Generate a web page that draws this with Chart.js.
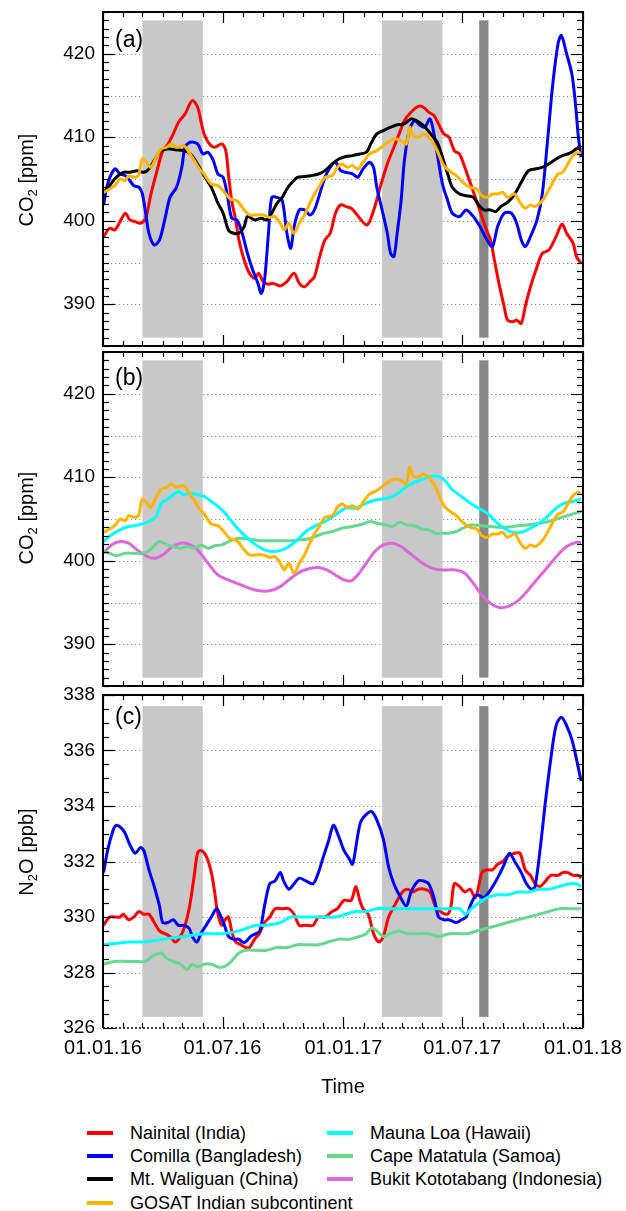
<!DOCTYPE html>
<html><head><meta charset="utf-8">
<script src="https://cdn.jsdelivr.net/npm/chart.js@4.4.1/dist/chart.umd.min.js"></script>
<style>
html,body{margin:0;padding:0;background:#fff}
body{position:relative;width:626px;height:1211px;overflow:hidden;font-family:"Liberation Sans",Arial,Helvetica,sans-serif;color:#000}
canvas{position:absolute;left:0}
.yt{position:absolute;font-size:20px;line-height:20px;white-space:nowrap;transform:translate(-50%,-50%) rotate(-90deg)}
.yt sub{font-size:13px;vertical-align:-4px;line-height:0}
.pl{position:absolute;left:115px;font-size:23px;line-height:23px}
.xt{position:absolute;left:343px;top:1086px;font-size:20px;line-height:20px;transform:translate(-50%,-50%)}
.li{position:absolute;height:22px;line-height:22px;font-size:18px;white-space:nowrap}
.li i{position:absolute;left:-43.5px;top:9px;width:26px;height:4px}
</style></head><body>
<canvas id="ca" width="626" height="370" style="top:0px"></canvas>
<canvas id="cb" width="626" height="370" style="top:330px"></canvas>
<canvas id="cc" width="626" height="430" style="top:670px"></canvas>
<div class="yt" style="left:26px;top:180px">CO<sub>2</sub> [ppm]</div>
<div class="yt" style="left:26px;top:518px">CO<sub>2</sub> [ppm]</div>
<div class="yt" style="left:26px;top:852px">N<sub>2</sub>O [ppb]</div>
<div class="pl" style="top:27.5px">(a)</div>
<div class="pl" style="top:365.5px">(b)</div>
<div class="pl" style="top:704.5px">(c)</div>
<div class="xt">Time</div>
<div id="legend"></div>
<script>
// ---------------- data ----------------
const DAY_TICKS = [0, 182, 366, 547, 731];
const DAY_LABELS = ['01.01.16', '01.07.16', '01.01.17', '01.07.17', '01.01.18'];
const MONTH_STARTS = [0,31,60,91,121,152,182,213,244,274,305,335,366,397,425,456,486,517,547,578,609,639,670,700,731];
const LIGHT_PERIODS = [[60, 152], [425, 517]];
const DARK_PERIODS = [[573, 587]];
const CO2_TICKS = [390, 400, 410, 420];
const CO2_GRID = [390, 395, 400, 405, 410, 415, 420];
const N2O_TICKS = [326, 328, 330, 332, 334, 336, 338];
const N2O_GRID = [328, 330, 332, 334, 336];

const NAMES = ['Nainital (India)', 'Comilla (Bangladesh)', 'Mt. Waliguan (China)', 'GOSAT Indian subcontinent',
               'Mauna Loa (Hawaii)', 'Cape Matatula (Samoa)', 'Bukit Kototabang (Indonesia)'];
const COLORS = ['#ff0000', '#0000ff', '#000000', '#ffb400', '#00ffff', '#66d98f', '#dd66dd'];

// CO2 (ppm)
const nainitalCO2Days = [1,10,18,26,34,41,49,57,65,73,81,91,99,107,115,125,136,144,149,154,162,170,181,187,191,196,202,207,215,223,231,237,244,252,259,270,280,291,299,307,315,322,330,338,346,354,362,370,378,385,393,401,406,414,422,433,443,451,459,469,480,488,496,504,511,519,527,535,543,551,559,567,574,582,590,597,603,611,616,624,630,637,643,651,661,669,679,690,699,706,716,721,728];
const nainitalCO2 = [398.1,399.1,398.9,399.9,400.9,400.1,399.9,399.7,400.3,403.2,405.6,408.4,409.2,410.4,411.8,412.8,414.4,413.6,412.0,410.4,409.2,408.8,409.2,408.4,405.6,402.4,400.1,397.7,395.3,393.7,393.1,393.7,392.7,392.4,392.5,392.2,392.7,393.7,392.5,392.1,392.7,393.3,395.7,397.7,398.5,400.9,401.9,401.7,401.5,400.9,400.1,399.5,399.9,401.7,404.0,406.8,408.8,410.4,412.0,413.0,413.7,413.6,413.0,412.6,411.6,410.4,410.0,408.4,408.0,406.4,404.6,402.8,401.2,399.3,397.7,394.9,392.5,389.7,388.1,387.9,388.1,387.7,389.7,392.1,394.5,396.1,396.5,398.1,399.6,398.5,397.3,395.7,394.9];

const comillaCO2Days = [1,7,18,26,34,41,47,55,60,65,70,78,86,94,102,112,120,125,133,144,152,160,168,175,183,189,196,204,212,220,228,236,241,246,252,257,265,273,280,286,291,299,307,315,322,330,338,346,354,362,370,380,388,396,406,412,417,425,433,438,443,448,454,459,467,475,483,490,498,504,509,517,525,532,543,553,564,574,585,593,601,611,622,630,637,643,651,661,669,677,685,693,698,706,714,719,724,728];
const comillaCO2 = [401.9,404.4,406.2,405.6,405.4,404.8,404.2,404.0,403.2,400.9,398.5,397.1,397.7,400.1,402.8,404.0,406.4,408.8,409.4,409.2,408.0,408.2,407.2,405.6,405.2,403.2,400.3,400.1,398.5,396.1,394.1,392.5,391.3,392.9,398.5,402.8,402.8,402.4,398.5,396.7,399.3,401.3,401.3,400.7,401.3,403.2,405.2,406.4,407.0,406.0,405.8,405.6,405.2,406.2,407.0,406.4,404.0,401.3,398.5,396.1,395.7,398.5,402.4,407.2,411.0,412.0,411.4,411.2,412.2,410.4,408.0,404.4,402.4,400.9,400.5,401.3,400.5,399.3,397.7,396.9,399.3,400.9,400.9,399.7,397.7,396.9,398.1,400.1,403.2,409.6,416.4,421.2,422.2,420.0,417.6,414.4,410.0,407.6];

const waliguanCO2Days = [1,10,20,31,41,52,62,70,78,86,97,110,123,133,144,154,165,175,183,191,199,207,215,220,231,241,249,257,265,273,280,288,296,307,317,328,338,349,359,370,380,391,401,409,417,427,438,448,459,469,477,485,493,501,509,517,525,532,543,553,564,572,580,590,598,606,616,627,637,648,658,669,679,690,700,711,721,728];
const waliguanCO2 = [403.4,404.2,405.2,405.8,405.8,406.0,405.8,406.2,407.2,408.2,408.6,408.5,408.4,408.0,406.8,405.4,404.0,402.1,400.9,398.9,398.5,398.5,399.3,400.5,400.1,400.3,400.1,400.9,402.1,402.8,403.8,404.6,405.2,405.3,405.4,405.6,406.0,406.8,407.4,407.7,407.8,408.0,408.2,409.4,410.4,410.8,411.2,411.5,411.6,412.2,412.0,411.6,411.0,410.2,409.4,407.6,405.6,404.0,403.2,403.0,402.8,401.9,401.3,401.3,401.1,401.7,402.2,403.2,404.6,406.0,406.2,406.4,406.8,407.4,407.8,408.1,408.6,408.8];

const gosatCO2Days = [1,10,18,26,34,39,47,54,60,68,73,81,89,97,104,112,123,131,139,147,154,165,175,183,194,204,215,223,233,244,254,262,270,276,283,291,299,307,315,322,330,338,349,357,364,372,380,388,396,406,417,427,438,446,454,462,467,472,480,488,496,504,511,519,527,538,548,559,569,577,585,593,601,609,616,627,635,643,651,658,669,677,685,693,700,708,716,724,728];
const gosatCO2 = [403.4,403.8,404.2,405.0,404.8,405.4,405.2,405.4,407.4,406.8,406.4,407.6,408.6,408.8,409.2,408.8,409.0,408.2,407.2,406.2,405.6,404.4,404.2,403.6,402.6,402.4,401.3,400.7,400.7,400.7,400.4,400.5,399.7,398.9,399.7,398.5,399.7,400.7,402.1,403.2,404.2,405.2,405.4,406.4,406.8,406.4,406.6,406.2,407.0,408.0,408.4,409.0,409.6,409.8,409.6,409.2,411.2,410.2,410.0,410.4,410.0,409.2,408.0,406.6,406.0,405.4,404.6,404.0,403.8,403.0,402.8,403.2,403.2,403.4,402.8,403.2,402.2,401.5,401.9,401.7,402.4,403.4,404.6,405.6,405.8,406.8,407.8,408.2,408.0];

const maunaLoaCO2Days = [1,13,26,39,55,70,81,89,97,107,115,123,133,144,154,165,175,186,196,207,220,233,246,259,273,283,296,309,322,338,354,370,385,401,417,433,446,459,472,485,498,511,522,532,546,559,572,585,598,611,624,637,651,664,677,690,703,716,728];
const maunaLoaCO2 = [402.3,403.1,403.7,404.1,404.3,404.7,405.3,406.9,407.3,407.9,408.3,407.9,408.1,407.9,407.7,407.1,406.5,405.7,404.7,403.7,402.7,401.9,401.3,401.1,401.3,401.7,402.5,403.5,404.1,404.7,405.5,406.3,406.3,406.9,407.3,407.5,407.9,408.7,409.3,409.7,410.1,410.1,409.5,408.5,407.7,406.9,406.3,405.7,404.7,403.9,403.4,403.4,403.9,404.5,405.3,406.3,406.9,407.1,407.4];

const samoaCO2Days = [1,10,20,34,47,60,70,86,97,107,118,128,139,149,160,170,181,191,207,223,238,254,270,286,301,317,333,349,364,380,396,406,417,430,441,451,462,475,485,496,506,517,527,538,548,561,574,588,601,616,632,648,664,679,695,711,728];
const samoaCO2 = [401.1,400.9,400.6,400.9,400.9,400.9,401.2,402.3,401.9,401.7,401.5,401.7,401.5,401.9,401.5,401.8,401.9,402.3,402.7,402.6,402.4,402.4,402.4,402.4,402.5,402.7,403.2,403.5,403.9,404.1,404.4,404.7,404.5,404.3,404.1,404.6,404.3,404.2,403.8,403.7,403.3,403.3,403.3,403.5,403.9,404.3,404.2,404.1,404.0,404.0,404.2,404.3,404.5,404.7,405.1,405.5,405.9];

const bukitCO2Days = [1,13,26,39,52,65,78,91,104,118,131,144,160,175,191,207,223,238,254,270,286,301,317,328,341,354,367,378,388,401,414,427,441,454,467,480,493,506,522,538,551,564,577,590,603,616,630,643,656,669,682,695,708,721,728];
const bukitCO2 = [401.0,401.9,402.3,402.1,401.3,400.6,400.3,400.7,401.6,402.1,402.0,401.3,399.7,398.3,397.7,397.2,396.7,396.4,396.4,396.9,397.9,398.7,399.1,399.2,398.9,398.3,397.7,397.6,398.3,399.7,401.1,401.9,402.1,401.7,400.9,400.1,399.4,399.0,398.9,398.9,398.5,397.3,395.9,394.9,394.4,394.5,395.1,396.1,397.3,398.5,399.7,400.9,401.8,402.2,402.2];

// N2O (ppb)
const comillaN2ODays = [1,7,15,20,28,34,41,49,57,62,70,78,86,91,99,107,115,123,131,136,143,149,157,165,173,178,185,191,199,207,212,217,225,233,239,246,254,262,270,275,283,291,299,309,320,328,336,343,351,359,367,375,380,385,392,401,409,417,427,435,443,451,462,469,480,488,496,504,511,519,527,538,546,553,561,569,580,588,596,603,611,619,627,637,645,653,658,666,674,682,690,698,706,714,721,728];
const comillaN2O = [331.6,332.4,333.1,333.3,333.2,333.0,332.6,332.3,332.5,332.4,331.7,331.1,330.4,329.8,329.8,329.9,329.7,329.7,329.6,329.3,329.1,329.4,329.7,330.0,330.3,330.1,329.7,329.3,329.2,329.2,329.1,329.1,329.3,329.4,329.5,330.4,331.2,331.3,331.6,331.3,331.0,331.2,331.4,331.3,331.2,331.6,332.2,332.7,333.3,332.9,332.4,332.1,331.9,332.5,333.4,333.7,333.8,333.5,332.8,331.8,331.2,330.8,330.4,330.9,331.3,331.3,331.2,330.7,330.0,329.9,329.9,329.8,329.9,330.0,330.5,330.8,330.7,330.9,331.2,331.5,331.9,332.3,332.0,331.6,331.2,331.0,331.1,332.5,334.2,335.7,336.9,337.2,336.9,336.4,335.7,334.9];

const nainitalN2ODays = [1,10,18,26,31,39,47,55,62,70,78,86,94,102,110,118,125,132,139,144,149,157,165,170,175,181,186,191,196,202,210,217,223,231,238,246,254,262,273,283,291,299,309,320,328,338,349,357,367,378,385,391,396,404,412,420,427,435,446,456,464,472,480,490,498,506,514,525,530,535,543,551,559,567,572,577,585,593,601,609,616,627,635,643,651,658,666,674,682,693,700,708,716,724,728];
const nainitalN2O = [329.7,330.0,330.0,330.0,330.1,329.9,330.0,330.2,330.1,330.1,329.8,329.5,329.4,329.3,329.1,329.3,329.7,330.4,331.5,332.3,332.4,332.2,331.6,330.9,330.1,329.7,329.9,330.0,329.5,329.1,329.0,328.9,328.9,329.2,329.4,329.8,330.0,330.3,330.3,330.3,330.1,329.7,329.7,329.7,330.0,330.0,330.2,330.3,330.6,330.6,331.1,330.6,330.3,330.1,329.4,329.1,329.3,330.0,330.5,330.9,331.0,330.9,331.0,331.0,330.9,330.4,330.2,330.1,330.4,331.2,331.1,330.9,331.0,330.7,331.1,331.6,331.7,331.7,331.9,332.0,332.2,332.3,332.3,331.7,331.5,331.2,331.1,331.3,331.5,331.5,331.6,331.6,331.5,331.5,331.4];

const maunaLoaN2ODays = [1,39,60,91,123,154,181,207,233,249,270,286,301,322,338,354,370,385,401,417,433,448,464,480,496,511,527,543,552,561,572,585,601,616,632,648,664,679,695,711,721,728];
const maunaLoaN2O = [329.0,329.1,329.1,329.2,329.3,329.4,329.4,329.5,329.7,329.7,329.8,330.0,330.0,330.0,330.0,330.0,330.1,330.2,330.2,330.3,330.3,330.3,330.3,330.3,330.3,330.3,330.3,330.3,330.1,330.3,330.5,330.7,330.8,330.8,330.9,330.9,331.0,331.0,331.1,331.2,331.2,331.1];

const samoaN2ODays = [1,18,34,49,65,76,89,97,107,118,128,136,144,154,165,175,183,191,199,207,217,233,249,265,280,296,312,328,343,359,375,391,401,409,417,427,438,451,464,480,496,511,527,543,556,569,585,601,616,632,648,664,679,695,711,728];
const samoaN2O = [328.3,328.4,328.4,328.4,328.4,328.6,328.7,328.5,328.4,328.3,328.1,328.3,328.2,328.3,328.3,328.2,328.2,328.3,328.5,328.7,328.8,328.8,328.8,328.9,328.9,329.0,329.0,329.0,329.1,329.2,329.2,329.3,329.4,329.6,329.5,329.3,329.4,329.5,329.4,329.4,329.4,329.3,329.4,329.4,329.4,329.5,329.6,329.7,329.8,329.9,330.0,330.1,330.2,330.3,330.3,330.3];

// ---------------- panels ----------------
const PANEL = {
  ca: {min: 385, max: 425, grid: CO2_GRID, boxLo: 386, boxHi: 424, minor: 1, major: 10, dottedBottom: false},
  cb: {min: 385, max: 425, grid: CO2_GRID, boxLo: 386, boxHi: 424, minor: 1, major: 10, dottedBottom: false},
  cc: {min: 326, max: 338, grid: N2O_GRID, boxLo: 326.4, boxHi: 337.6, minor: 0.5, major: 2, dottedBottom: true}
};

const FONT = "'Liberation Sans', Arial, Helvetica, sans-serif";
Chart.defaults.font.family = FONT;
Chart.defaults.color = '#000';

function line(ctx, x0, y0, x1, y1) { ctx.beginPath(); ctx.moveTo(x0, y0); ctx.lineTo(x1, y1); ctx.stroke(); }

const framePlugin = {
  id: 'frame',
  beforeDatasetsDraw(chart) {
    const P = PANEL[chart.canvas.id];
    const {ctx, chartArea: a} = chart;
    const x = chart.scales.x, y = chart.scales.y;
    ctx.save();
    ctx.strokeStyle = '#8f8f8f'; ctx.lineWidth = 1; ctx.setLineDash([1.2, 2.8]);
    P.grid.forEach(v => { const py = Math.round(y.getPixelForValue(v)) + 0.5; line(ctx, a.left, py, a.right, py); });
    ctx.setLineDash([]);
    const yt = y.getPixelForValue(P.boxHi), yb = y.getPixelForValue(P.boxLo);
    const boxes = (periods, color) => {
      ctx.fillStyle = color;
      periods.forEach(([s, e]) => { const x0 = x.getPixelForValue(s), x1 = x.getPixelForValue(e); ctx.fillRect(x0, yt, x1 - x0, yb - yt); });
    };
    boxes(LIGHT_PERIODS, '#c8c8c8');
    boxes(DARK_PERIODS, '#878787');
    ctx.restore();
  },
  afterDatasetsDraw(chart) {
    const P = PANEL[chart.canvas.id];
    const {ctx, chartArea: a} = chart;
    const x = chart.scales.x, y = chart.scales.y;
    ctx.save();
    ctx.strokeStyle = '#000'; ctx.lineWidth = 1.2;
    const n = Math.round((P.max - P.min) / P.minor);
    for (let i = 0; i <= n; i++) {
      const v = P.min + i * P.minor;
      const r = v / P.major;
      const len = Math.abs(r - Math.round(r)) < 1e-6 ? 12 : 6;
      const py = Math.round(y.getPixelForValue(v)) + 0.5;
      line(ctx, a.left, py, a.left + len, py);
      line(ctx, a.right, py, a.right - len, py);
    }
    MONTH_STARTS.forEach(d => {
      const px = Math.round(x.getPixelForValue(d)) + 0.5;
      const len = DAY_TICKS.includes(d) ? 11 : 5;
      line(ctx, px, a.top, px, a.top + len);
      line(ctx, px, a.bottom, px, a.bottom - len);
    });
    ctx.lineWidth = 2;
    ctx.beginPath();
    ctx.moveTo(a.left, a.bottom); ctx.lineTo(a.left, a.top); ctx.lineTo(a.right, a.top); ctx.lineTo(a.right, a.bottom);
    if (!P.dottedBottom) ctx.closePath();
    ctx.stroke();
    if (P.dottedBottom) {
      ctx.lineWidth = 1.5; ctx.setLineDash([2, 2]);
      line(ctx, a.left, a.bottom, a.right, a.bottom);
    }
    ctx.restore();
  }
};

function series(i, days, vals, order) {
  return {
    label: NAMES[i],
    data: days.map((d, k) => ({x: d, y: vals[k]})),
    borderColor: COLORS[i], backgroundColor: COLORS[i],
    borderWidth: 3, pointRadius: 0, tension: 0.3, fill: false, order: order
  };
}

function makeChart(id, datasets, yTicks, pad, showX) {
  const P = PANEL[id];
  return new Chart(document.getElementById(id), {
    type: 'line',
    data: {datasets},
    options: {
      responsive: false, animation: false, events: [],
      layout: {padding: {left: 0, right: 43, top: pad.top, bottom: pad.bottom}},
      plugins: {legend: {display: false}, tooltip: {enabled: false}},
      scales: {
        x: {
          type: 'linear', min: 0, max: 731, display: showX,
          grid: {display: false, drawTicks: false}, border: {display: false},
          afterBuildTicks: s => { s.ticks = DAY_TICKS.map(v => ({value: v})); },
          afterFit: s => { s.height = showX ? 40 : 0; s.paddingLeft = 0; s.paddingRight = 0; },
          ticks: {autoSkip: false, maxRotation: 0, padding: 8, font: {size: 20},
                  callback: (v) => DAY_LABELS[DAY_TICKS.indexOf(v)] || ''}
        },
        y: {
          type: 'linear', min: P.min, max: P.max, position: 'left',
          grid: {display: false, drawTicks: false}, border: {display: false},
          afterBuildTicks: s => { s.ticks = yTicks.map(v => ({value: v})); },
          afterFit: s => { s.width = 103; s.paddingTop = 0; s.paddingBottom = 0; },
          ticks: {padding: 8, font: {size: 19}, callback: v => String(v)}
        }
      }
    },
    plugins: [framePlugin]
  });
}

makeChart('ca', [
  series(3, gosatCO2Days, gosatCO2, 0),
  series(2, waliguanCO2Days, waliguanCO2, 1),
  series(1, comillaCO2Days, comillaCO2, 2),
  series(0, nainitalCO2Days, nainitalCO2, 3)
], CO2_TICKS, {top: 12, bottom: 24}, false);

makeChart('cb', [
  series(3, gosatCO2Days, gosatCO2, 0),
  series(4, maunaLoaCO2Days, maunaLoaCO2, 1),
  series(5, samoaCO2Days, samoaCO2, 2),
  series(6, bukitCO2Days, bukitCO2, 3)
], CO2_TICKS, {top: 22, bottom: 14}, false);

makeChart('cc', [
  series(4, maunaLoaN2ODays, maunaLoaN2O, 0),
  series(5, samoaN2ODays, samoaN2O, 1),
  series(1, comillaN2ODays, comillaN2O, 2),
  series(0, nainitalN2ODays, nainitalN2O, 3)
], N2O_TICKS, {top: 25, bottom: 32}, true);

// legend (two columns, column-major)
const LEG_X = [130, 370];
const LEG_Y = [1121.5, 1144.5, 1168, 1191.5];
const leg = document.getElementById('legend');
NAMES.forEach((name, i) => {
  const col = i < 4 ? 0 : 1, row = i < 4 ? i : i - 4;
  const d = document.createElement('div');
  d.className = 'li';
  d.style.left = LEG_X[col] + 'px';
  d.style.top = LEG_Y[row] + 'px';
  const sw = document.createElement('i');
  sw.style.background = COLORS[i];
  d.appendChild(sw);
  d.appendChild(document.createTextNode(name));
  leg.appendChild(d);
});
</script>
</body></html>
